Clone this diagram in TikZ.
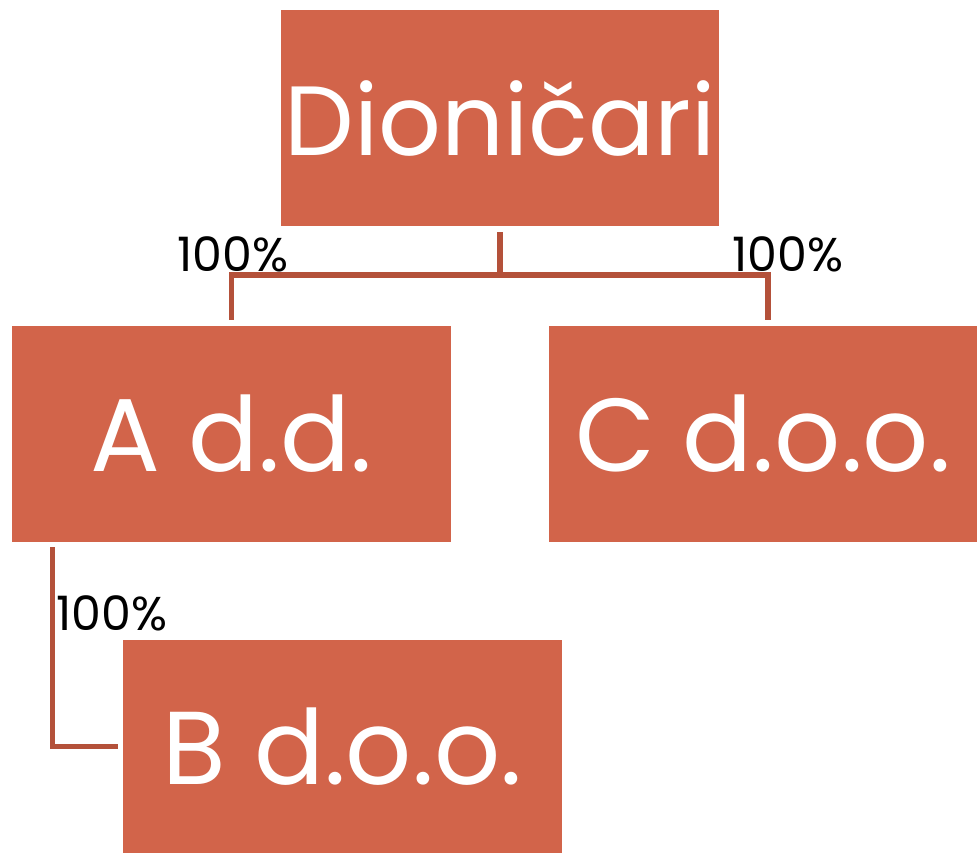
\documentclass[tikz,border=0pt]{standalone}
\usepackage{fontspec}
\setmainfont{Poppins}
\definecolor{boxfill}{HTML}{D2644A}
\definecolor{linkcol}{HTML}{B4513A}
\tikzstyle{company}=[fill=boxfill,text=white,inner sep=0pt,minimum width=8.78cm,minimum height=4.32cm,font=\fontsize{59}{64}\selectfont]
\tikzstyle{link} = [draw,linkcol,line width=3pt,-]
\tikzstyle{share} = [font=\fontsize{27}{30}\selectfont,inner sep=0pt]
\begin{document}
\begin{tikzpicture}[x=0.02cm,y=-0.02cm]
                  % Fix the page to the reference size
                  \useasboundingbox (0,0) rectangle (977,853);
                  % First we draw the companies
                  \node[company,minimum width=8.76cm,font=\fontsize{56}{62}\selectfont] (holders) at (500,118) {Dioničari};
                  \node[company] (A) at (231.5,434) {A d.d.};
                  \node[company,minimum width=8.56cm] (C) at (763,434) {C d.o.o.};
                  \node[company,minimum height=4.26cm] (B) at (342.5,746.5) {B d.o.o.};
                  % Then the ownership links
                  \coordinate (fork) at (500,275);
                  \path[link] ([yshift=-0.12cm]holders.south) -- (fork);
                  \path[link] (fork) -| ([yshift=0.12cm]A.north);
                  \path[link] (fork) -| ([xshift=0.1cm,yshift=0.12cm]C.north);
                  \path[link] ([xshift=0.82cm,yshift=-0.1cm]A.south west) |- ([xshift=-0.1cm]B.west);
                  % Shares
                  \node[share] (shareA) at (233,254) {100\%};
                  \node[share] (shareC) at (788,254) {100\%};
                  \node[share] (shareB) at (112,613) {100\%};
            \end{tikzpicture}
\end{document}
